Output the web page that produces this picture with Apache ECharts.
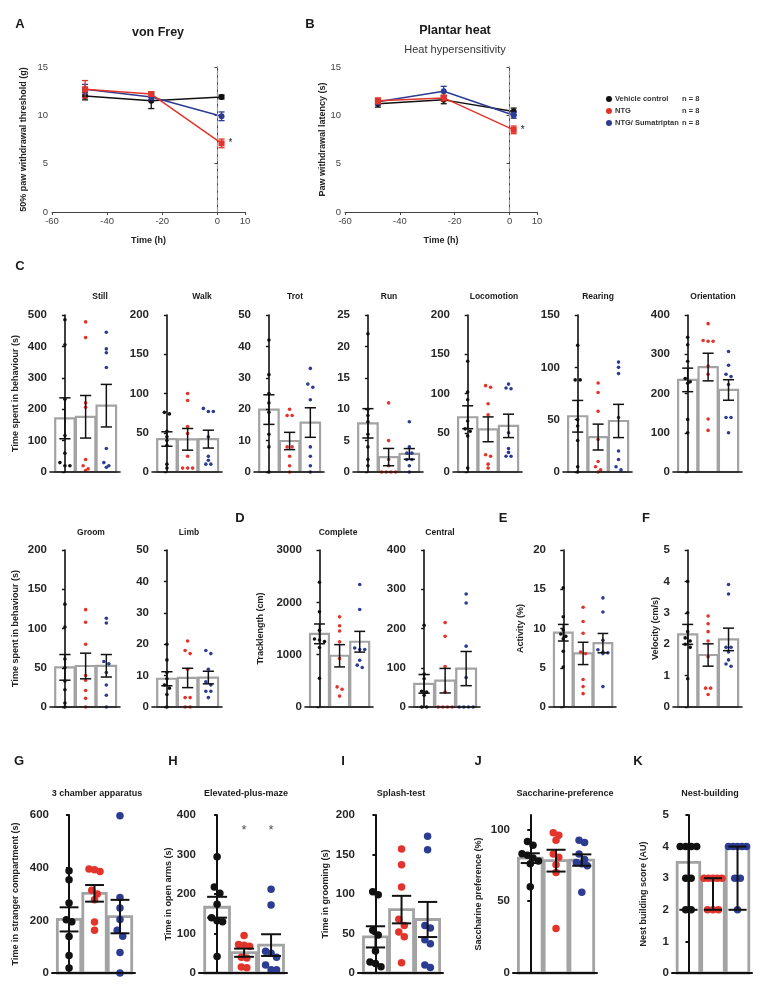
<!DOCTYPE html>
<html><head><meta charset="utf-8">
<script src="https://cdn.jsdelivr.net/npm/echarts@6/dist/echarts.min.js"></script>
<style>html,body{margin:0;padding:0;background:#fff}#c{width:762px;height:991px}</style>
</head><body><div id="c"></div>
<script>
// ---------------- DATA ----------------
const groups = ['Vehicle control', 'NTG', 'NTG/ Sumatriptan'];
const groupN = [8, 8, 8];
const groupColors = ['#111111', '#e3342b', '#2c3c92'];

// A / B time courses (mean, SEM)
const timeH = [-48, -24, 1.5];
const vonFreyMeans = [[12.0, 11.5, 11.9], [12.7, 12.2, 7.1], [12.7, 11.9, 9.9]];
const vonFreySems  = [[0.4, 0.8, 0.2], [0.9, 0.2, 0.45], [0.5, 0.3, 0.45]];
const vonFreySigNTG = ['', '', '*'];
const plantarMeans = [[11.2, 11.6, 10.4], [11.5, 11.8, 8.5], [11.4, 12.5, 10.0]];
const plantarSems  = [[0.35, 0.4, 0.35], [0.3, 0.3, 0.4], [0.3, 0.5, 0.3]];
const plantarSigNTG = ['', '', '*'];

// C  (individual animals: vehicle, NTG, NTG/Sumatriptan)
const still = [[485,405,232,116,60,30,20,20],[478,428,220,206,40,20,10,5],[445,392,380,333,75,30,20,15]];
const walk = [[76,74,52,45,40,34,10,5],[100,91,58,49,20,5,5,5],[81,77,77,45,20,15,10,10]];
const trot = [[42,31,25,22,19,12,8,0],[20,18,18,8,8,5,2,0],[33,28,27,23,8,5,2,0]];
const run = [[22,10,9,8,6,4,2,1],[11,5,2,1,0,0,0,0],[8,4,3,3,2,2,1,0]];
const locomotion = [[141,102,92,65,55,52,46,5],[110,108,87,73,22,20,10,5],[112,107,106,50,30,25,20,20]];
const rearing = [[121,88,88,50,44,30,5,0],[85,76,58,31,10,5,2,0],[105,100,94,52,20,12,5,2]];
const orientation = [[343,324,282,238,230,226,134,100],[378,335,333,333,270,249,135,106],[307,272,249,243,223,139,139,100]];
const groom = [[131,102,61,50,33,22,5,0],[124,108,80,40,34,21,11,0],[113,107,58,55,44,28,15,0]];
const limb = [[20,15,11,9,7,6,4,0],[21,18,17,12,3,3,0,0],[18,17,12,8,7,5,3,5]];
// D
const trackComplete = [[2384,1818,1465,1300,1280,1250,1138,547],[1723,1553,1453,1245,925,384,340,208],[2340,1862,1126,1100,1100,893,800,755]];
const trackCentral = [[208,84,72,40,38,30,0,0],[215,180,103,38,0,0,0,0],[288,265,155,75,0,0,0,0]];
// E, F
const activity = [[15.2,11.5,9.8,9.3,9.0,8.7,7.1,5.1],[12.7,10.9,9.4,7.0,6.8,3.5,2.6,1.7],[13.9,12.1,8.5,7.3,7.0,6.9,6.8,2.6]];
const velocity = [[4.0,3.0,2.4,2.2,2.1,2.0,1.9,0.9],[2.9,2.65,2.4,2.1,1.6,0.6,0.6,0.4],[3.9,3.6,1.9,1.9,1.75,1.5,1.37,1.3]];
// G - K
const threeChamber = [[388,354,266,202,195,139,66,19],[395,392,385,314,300,278,194,162],[597,287,247,203,162,140,78,0]];
const plusMaze = [[294,218,202,174,140,132,130,42],[95,72,70,68,40,38,15,13],[212,172,55,50,40,20,8,8]];
const plusMazeSig = ['', '*', '*'];
const splash = [[103,99,54,48,28,14,12,8],[157,137,109,68,60,52,46,13],[173,156,60,57,42,37,10,7]];
const saccharine = [[91.5,89,83,82,80,78,76,60],[97.7,95.9,92.4,82.8,80.5,75.4,70,31],[92.4,90.8,82.8,79,77,76,74.7,56.3]];
const nestScore = [[4,4,4,4,3,3,2,2],[3,3,3,3,3,2,2,2],[4,4,4,4,4,3,3,2]];

// ---------------- HELPERS ----------------
const FONT = '"Liberation Sans", Arial, Helvetica, sans-serif';
const option = {animation:false, backgroundColor:'#ffffff', textStyle:{fontFamily:FONT},
  grid:[], xAxis:[], yAxis:[], series:[], graphic:[]};

function meanSem(a){
  const n=a.length, m=a.reduce((s,v)=>s+v,0)/n;
  const sd=Math.sqrt(a.reduce((s,v)=>s+(v-m)*(v-m),0)/(n-1));
  const se=sd/Math.sqrt(n);
  return {c:m, lo:m-se, hi:m+se};
}
function medianRange(a){
  const s=[...a].sort((x,y)=>x-y), n=s.length;
  const med = n%2 ? s[(n-1)/2] : (s[n/2-1]+s[n/2])/2;
  return {c:med, lo:s[0], hi:s[n-1]};
}
// simple bee-swarm: cluster near-equal values and spread them symmetrically
function swarm(vals, yPerPx, dotPx, stepPx, unitPx, maxSpreadPx){
  const order = vals.map((v,i)=>i).sort((a,b)=>vals[b]-vals[a]);
  const offs = new Array(vals.length).fill(0);
  const thr = dotPx*yPerPx;
  let i=0;
  while(i<order.length){
    const cl=[order[i]]; let j=i+1;
    while(j<order.length && vals[order[i]]-vals[order[j]] < thr){cl.push(order[j]); j++;}
    const k=cl.length;
    const st = Math.min(stepPx, k>1 ? maxSpreadPx/(k-1) : stepPx);
    cl.forEach((idx,q)=>{ offs[idx]=((q-(k-1)/2)*st)/unitPx; });
    i=j;
  }
  return offs;
}
function text(x,y,str,font,align,color){
  option.graphic.push({type:'text', x:x, y:y, silent:true,
    style:{text:str, font:font, fill:color||'#1a1a1a', align:align||'center', verticalAlign:'middle'}});
}
function barRender(hw, lw){
  return function(params, api){
    const i=api.value(0), m=api.value(1);
    const a=api.coord([i-hw, m]), b=api.coord([i+hw, 0]);
    return {type:'rect', shape:{x:a[0], y:a[1], width:b[0]-a[0], height:b[1]-a[1]},
      style:{fill:'#ffffff', stroke:'#a3a3a3', lineWidth:lw}};
  };
}
function errRender(cap, color, lw){
  return function(params, api){
    const i=api.value(0), lo=api.value(1), hi=api.value(2);
    const t=api.coord([i,hi]), b=api.coord([i,lo]);
    const w=api.size([cap,0])[0];
    const st={stroke:color, lineWidth:lw};
    return {type:'group', children:[
      {type:'line', shape:{x1:t[0],y1:t[1],x2:b[0],y2:b[1]}, style:st},
      {type:'line', shape:{x1:t[0]-w,y1:t[1],x2:t[0]+w,y2:t[1]}, style:st},
      {type:'line', shape:{x1:b[0]-w,y1:b[1],x2:b[0]+w,y2:b[1]}, style:st}
    ]};
  };
}

function addBarPanel(p){
  const big = !!p.big;
  const XMIN = big ? -0.67 : -0.72, XMAX = big ? 2.59 : 2.66;
  const hw = big ? 0.46 : 0.47;
  const dot = big ? 7.5 : 3.6;
  const gi = option.grid.length;
  option.grid.push({left:p.left, top:p.top, width:p.width, height:p.height});
  option.xAxis.push({gridIndex:gi, type:'value', min:XMIN, max:XMAX, z:10,
    axisLine:{lineStyle:{color:'#111', width:big?2:1.6}}, axisTick:{show:false}, axisLabel:{show:false}, splitLine:{show:false}});
  const yAx = {gridIndex:gi, type:'value', min:0, max:p.max, interval:p.interval, z:10,
    name:p.yName||'', nameLocation:'middle', nameGap:p.nameGap||30,
    nameTextStyle:{fontSize:9, fontWeight:'bold', color:'#222', fontFamily:FONT},
    axisLine:{show:true, lineStyle:{color:'#111', width:big?2:1.6}},
    axisTick:{show:true, length:3, lineStyle:{color:'#111', width:big?2:1.4}},
    axisLabel:{fontSize:11.5, fontWeight:'bold', color:'#262626', margin:3, fontFamily:FONT,
      formatter: v => String(v)},
    splitLine:{show:false}};
  if (p.labelValues){ yAx.axisLabel.customValues=p.labelValues; yAx.axisTick.customValues=p.labelValues; }
  option.yAxis.push(yAx);
  const stats = p.data.map(a => p.median ? medianRange(a) : meanSem(a));
  option.series.push({type:'custom', xAxisIndex:gi, yAxisIndex:gi, silent:true, clip:false, z:2,
    data: stats.map((s,i)=>[i, s.c]), renderItem: barRender(hw, big?2.8:2.2)});
  const unitPx = p.width/(XMAX-XMIN);
  const yPerPx = p.max/p.height;
  p.data.forEach((arr,g)=>{
    const offs = swarm(arr, yPerPx, dot, big?5.5:5, unitPx, big?18:14);
    option.series.push({type:'scatter', xAxisIndex:gi, yAxisIndex:gi, silent:true, clip:false, z:3,
      symbolSize:dot, itemStyle:{color:groupColors[g], opacity:1},
      data: arr.map((v,k)=>[g+offs[k], v])});
  });
  option.series.push({type:'custom', xAxisIndex:gi, yAxisIndex:gi, silent:true, clip:false, z:4,
    data: stats.map((s,i)=>[i, s.lo, s.hi]), renderItem: errRender(big?0.37:0.27, '#111', big?2:1.5)});
  if (p.sig){
    option.series.push({type:'scatter', xAxisIndex:gi, yAxisIndex:gi, silent:true, z:5, symbolSize:0,
      data: p.sig.map((s,i)=>({value:[i, p.max*0.9], label:{show:!!s, formatter:s, position:'inside', fontSize:13, color:'#222'}}))});
  }
  if (p.title) text(p.titleX, p.titleY, p.title, 'bold '+(big?9:8.5)+'px '+FONT);
}

function addTimePanel(p){
  const gi = option.grid.length;
  option.grid.push({left:p.left, top:p.top, width:p.width, height:p.height});
  option.xAxis.push({gridIndex:gi, type:'value', min:-60, max:10, interval:20,
    name:'Time (h)', nameLocation:'middle', nameGap:24,
    nameTextStyle:{fontSize:9, fontWeight:'bold', color:'#222', fontFamily:FONT},
    axisLine:{onZero:false, lineStyle:{color:'#444', width:1}}, axisTick:{length:3, lineStyle:{color:'#444'}},
    axisLabel:{fontSize:9.5, color:'#444', margin:4, fontFamily:FONT}, splitLine:{show:false}});
  option.yAxis.push({gridIndex:gi, type:'value', min:0, max:15, interval:5,
    name:p.yName, nameLocation:'middle', nameGap:p.nameGap,
    nameTextStyle:{fontSize:9, fontWeight:'bold', color:'#222', fontFamily:FONT},
    axisLine:{show:true, lineStyle:{color:'#444', width:1}}, axisTick:{show:true, length:3, lineStyle:{color:'#444'}},
    axisLabel:{fontSize:9.5, color:'#444', margin:4, fontFamily:FONT}, splitLine:{show:false}});
  const zs=[3,5,4];
  p.means.forEach((m,g)=>{
    option.series.push({type:'line', name:groups[g], xAxisIndex:gi, yAxisIndex:gi, z:zs[g],
      symbol: g===1 ? 'rect' : 'circle', symbolSize:6,
      lineStyle:{width:1.5, color:groupColors[g]}, itemStyle:{color:groupColors[g]},
      data: timeH.map((t,k)=>{
        const d={value:[t, m[k]]};
        if (g===1 && p.sig[k]) d.label={show:true, formatter:p.sig[k], position:'right', distance:4, color:'#222', fontSize:10};
        return d;
      }),
      markLine: g===0 ? {symbol:'none', silent:true, label:{show:false},
        lineStyle:{type:'dashed', color:'#a0a0a0', width:1.2}, data:[{xAxis:0}]} : undefined
    });
    option.series.push({type:'custom', xAxisIndex:gi, yAxisIndex:gi, silent:true, z:zs[g],
      data: timeH.map((t,k)=>[t, m[k]-p.sems[g][k], m[k]+p.sems[g][k]]),
      renderItem: errRender(1.1, groupColors[g], 1.3)});
  });
}

// ---------------- LAYOUT ----------------
addTimePanel({left:52, top:67, width:193, height:145, means:vonFreyMeans, sems:vonFreySems, sig:vonFreySigNTG,
  yName:'50% paw withdrawal threshold (g)', nameGap:24});
addTimePanel({left:345, top:67, width:192, height:145, means:plantarMeans, sems:plantarSems, sig:plantarSigNTG,
  yName:'Paw withdrawal latency (s)', nameGap:18});

option.legend = {orient:'vertical', left:601, top:90, itemWidth:6, itemHeight:6, itemGap:4, icon:'circle',
  data:groups, selectedMode:false,
  formatter: function(name){ const k=groups.indexOf(name); return '{a|'+name+'}{b|n = '+groupN[k]+'}'; },
  textStyle:{fontSize:7.5, fontWeight:'bold', color:'#333', fontFamily:FONT, padding:[0,0,0,-2],
    rich:{a:{width:67, fontSize:7.5, fontWeight:'bold', color:'#333', fontFamily:FONT},
          b:{fontSize:7.5, fontWeight:'bold', color:'#333', fontFamily:FONT}}}};

const rowC = {top:315, height:157, titleY:297};
const behaviourName = 'Time spent in behaviour (s)';
addBarPanel({...rowC, left:50,  width:70, max:500, interval:100, data:still, title:'Still', titleX:100, yName:behaviourName, nameGap:30});
addBarPanel({...rowC, left:152, width:70, max:200, interval:50,  data:walk, title:'Walk', titleX:202});
addBarPanel({...rowC, left:254, width:70, max:50,  interval:10,  data:trot, title:'Trot', titleX:295});
addBarPanel({...rowC, left:353, width:70, max:25,  interval:5,   data:run, title:'Run', titleX:389});
addBarPanel({...rowC, left:453, width:69, max:200, interval:50,  data:locomotion, title:'Locomotion', titleX:494});
addBarPanel({...rowC, left:563, width:69, max:150, interval:50,  data:rearing, title:'Rearing', titleX:598});
addBarPanel({...rowC, left:673, width:69, max:400, interval:100, data:orientation, title:'Orientation', titleX:713});

const row2 = {top:550, height:157, titleY:533};
addBarPanel({...row2, left:50,  width:70, max:200,  interval:50,   data:groom, title:'Groom', titleX:91, yName:behaviourName, nameGap:30});
addBarPanel({...row2, left:152, width:70, max:50,   interval:10,   data:limb, title:'Limb', titleX:189});
addBarPanel({...row2, left:305, width:68, max:3000, interval:1000, data:trackComplete, title:'Complete', titleX:338, yName:'Tracklength (cm)', nameGap:40});
addBarPanel({...row2, left:409, width:71, max:400,  interval:100,  data:trackCentral, title:'Central', titleX:440});
addBarPanel({...row2, left:549, width:67, max:20,   interval:5,    data:activity, yName:'Activity (%)', nameGap:24});
addBarPanel({...row2, left:673, width:69, max:5,    interval:1,    data:velocity, yName:'Velocity (cm/s)', nameGap:12});

const row3 = {top:815, height:158, titleY:794, big:true};
addBarPanel({...row3, left:52,  width:83, max:600, interval:200, data:threeChamber, title:'3 chamber apparatus', titleX:97, yName:'Time in stranger compartment (s)', nameGap:32});
addBarPanel({...row3, left:199, width:88, max:400, interval:100, data:plusMaze, sig:plusMazeSig, title:'Elevated-plus-maze', titleX:246, yName:'Time in open arms (s)', nameGap:26});
addBarPanel({...row3, left:358, width:85, max:200, interval:50,  data:splash, title:'Splash-test', titleX:401, yName:'Time in grooming (s)', nameGap:28});
addBarPanel({...row3, left:513, width:84, max:110, interval:50,  labelValues:[0,50,100], data:saccharine, title:'Saccharine-preference', titleX:565, yName:'Saccharine preference (%)', nameGap:30});
addBarPanel({...row3, left:672, width:80, max:5,   interval:1,   data:nestScore, median:true, title:'Nest-building', titleX:710, yName:'Nest building score (AU)', nameGap:24});

// titles and panel letters
text(158, 33, 'von Frey', 'bold 12.5px '+FONT);
text(455, 31, 'Plantar heat', 'bold 12.5px '+FONT);
text(455, 50, 'Heat hypersensitivity', '11px '+FONT, 'center', '#333');
const letterFont = 'bold 13px '+FONT;
[['A',20,24],['B',310,24],['C',20,266],['D',240,518],['E',503,518],['F',646,518],
 ['G',19,761],['H',173,761],['I',343,761],['J',478,761],['K',638,761]].forEach(l=>text(l[1],l[2],l[0],letterFont));

const chart = echarts.init(document.getElementById('c'), null, {renderer:'canvas', width:762, height:991});
chart.setOption(option);
</script></body></html>
